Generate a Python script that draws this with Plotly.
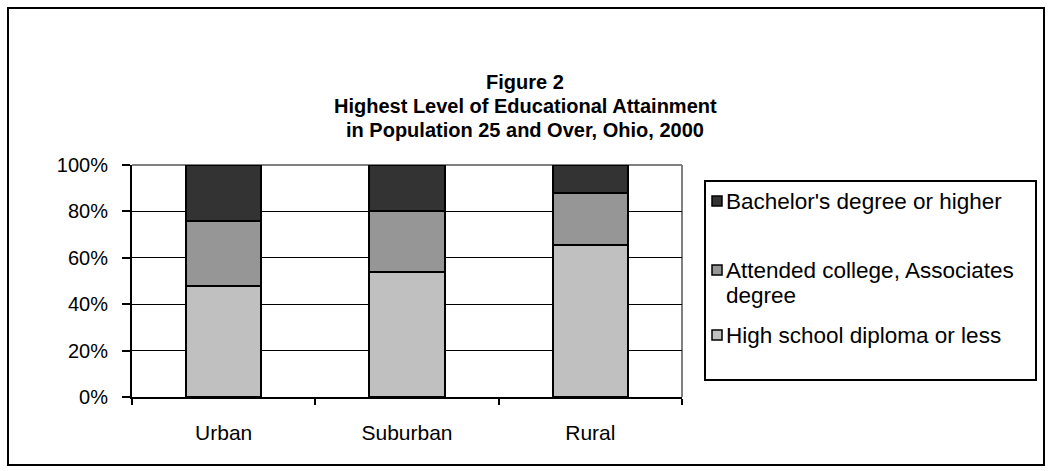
import plotly.graph_objects as go

categories = ["Urban", "Suburban", "Rural"]
series_names = ["High school diploma or less", "Attended college, Associates degree", "Bachelor's degree or higher"]
hs_values = [48.0, 54.0, 65.5]
college_values = [28.0, 26.0, 22.3]
bachelor_values = [24.0, 20.0, 12.2]
series_colors = ["#c0c0c0", "#969696", "#333333"]
y_ticks = [0, 20, 40, 60, 80, 100]
y_tick_labels = ["0%", "20%", "40%", "60%", "80%", "100%"]
title_lines = ["Figure 2", "Highest Level of Educational Attainment", "in Population 25 and Over, Ohio, 2000"]

W, H = 1051, 471
PL, PR, PT, PB = 132, 682, 165, 397
FONT = "Liberation Sans, Arial, sans-serif"

def px(x):
    return (x - PL) / (PR - PL)

def py(y):
    return (PB - y) / (PB - PT)

fig = go.Figure()
for name, vals, col in zip(series_names, [hs_values, college_values, bachelor_values], series_colors):
    fig.add_trace(go.Bar(x=categories, y=vals, name=name, width=0.41,
                         marker=dict(color=col, line=dict(color="black", width=2)),
                         showlegend=False))

shapes = []
annotations = []
# outer border
shapes.append(dict(type="rect", xref="paper", yref="paper", x0=px(8), x1=px(1044), y0=py(8), y1=py(465),
                   line=dict(color="black", width=2), fillcolor="rgba(0,0,0,0)", layer="below"))
# plot-area top and right border (gray)
shapes.append(dict(type="line", xref="paper", yref="paper", x0=0, x1=1, y0=1, y1=1,
                   line=dict(color="#808080", width=2), layer="below"))
shapes.append(dict(type="line", xref="paper", yref="paper", x0=1, x1=1, y0=0, y1=1,
                   line=dict(color="#808080", width=2), layer="below"))
# title lines
for txt, yc in zip(title_lines, [82, 106, 130]):
    annotations.append(dict(text="<b>" + txt + "</b>", xref="paper", yref="paper", x=px(525), y=py(yc),
                            xanchor="center", yanchor="middle", showarrow=False,
                            font=dict(family=FONT, size=20, color="black")))
# legend box
shapes.append(dict(type="rect", xref="paper", yref="paper", x0=px(705), x1=px(1036), y0=py(181), y1=py(380),
                   line=dict(color="black", width=2), fillcolor="white"))
legend_items = [
    (series_colors[2], 201, ["Bachelor's degree or higher"]),
    (series_colors[1], 270, ["Attended college, Associates", "degree"]),
    (series_colors[0], 335, ["High school diploma or less"]),
]
for col, yc, lines in legend_items:
    shapes.append(dict(type="rect", xref="paper", yref="paper", x0=px(712), x1=px(722), y0=py(yc - 5), y1=py(yc + 5),
                       line=dict(color="black", width=1.5), fillcolor=col))
    for i, ln in enumerate(lines):
        annotations.append(dict(text=ln, xref="paper", yref="paper", x=px(724), y=py(yc + 25 * i),
                                xanchor="left", yanchor="middle", showarrow=False, align="left",
                                font=dict(family=FONT, size=22.5, color="black")))

fig.update_layout(
    width=W, height=H,
    margin=dict(l=PL, r=W - PR, t=PT, b=H - PB, pad=0),
    paper_bgcolor="white", plot_bgcolor="white",
    barmode="stack", bargap=0.59,
    xaxis=dict(showline=True, linecolor="black", linewidth=2, ticks="outside", ticklen=6, tickwidth=2,
               tickcolor="black", tickson="boundaries", showgrid=False,
               tickfont=dict(family=FONT, size=21, color="black"), ticklabelstandoff=16),
    yaxis=dict(range=[0, 100], tickvals=y_ticks, ticktext=y_tick_labels, showline=True, linecolor="black",
               linewidth=2, ticks="outside", ticklen=8, tickwidth=2, tickcolor="black",
               showgrid=True, gridcolor="black", gridwidth=1, zeroline=False,
               tickfont=dict(family=FONT, size=20, color="black"), ticklabelstandoff=10),
    shapes=shapes, annotations=annotations,
    font=dict(family=FONT, color="black"),
)
fig.write_html("out.html")
